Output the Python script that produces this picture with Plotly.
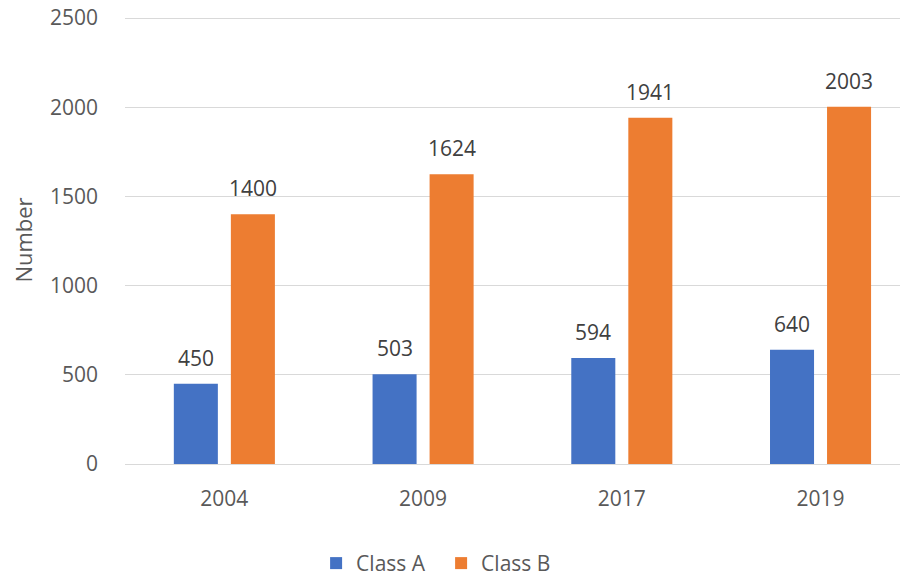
import plotly.graph_objects as go

years = ["2004", "2009", "2017", "2019"]
class_a = [450, 503, 594, 640]
class_b = [1400, 1624, 1941, 2003]

font_family = "Open Sans, Noto Sans, sans-serif"

fig = go.Figure()

# Class A
fig.add_trace(go.Bar(
    x=years,
    y=class_a,
    name="Class A",
    marker=dict(color="#4472C4", line=dict(width=0)),
))

# Class B
fig.add_trace(go.Bar(
    x=years,
    y=class_b,
    name="Class B",
    marker=dict(color="#ED7D31", line=dict(width=0)),
))

# value labels above the bars (x given as category index)
for i, (a, b) in enumerate(zip(class_a, class_b)):
    for val, dx in ((a, -28.5), (b, 28.5)):
        fig.add_annotation(
            x=i, y=val, text=str(val),
            xref="x", yref="y",
            xshift=dx, yshift=26,
            showarrow=False,
            font=dict(size=21, color="#404040"),
        )

fig.update_layout(
    width=900,
    height=568,
    margin=dict(l=117, r=3, t=8, b=112, autoexpand=False),
    paper_bgcolor="white",
    plot_bgcolor="white",
    font=dict(family=font_family, size=21, color="#595959"),
    barmode="group",
    bargap=0.426,
    bargroupgap=0.228,
    showlegend=True,
    legend=dict(
        orientation="h",
        x=0.245,
        xanchor="left",
        y=-0.222,
        yanchor="middle",
        font=dict(size=21, color="#595959"),
        itemwidth=30,
        entrywidth=80,
    ),
)

fig.update_xaxes(
    type="category",
    range=[-0.5, 3.425],
    automargin=False,
    showgrid=False,
    showline=False,
    ticks="",
    ticklabelstandoff=20,
    tickfont=dict(size=21, color="#595959"),
)

fig.update_yaxes(
    range=[0, 2512],
    tickvals=[0, 500, 1000, 1500, 2000, 2500],
    automargin=False,
    showgrid=True,
    gridcolor="#D9D9D9",
    gridwidth=1,
    zeroline=True,
    zerolinecolor="#D9D9D9",
    zerolinewidth=1,
    showline=False,
    ticks="",
    ticklabelstandoff=26,
    ticklabeloverflow="allow",
    tickfont=dict(size=21, color="#595959"),
    title=dict(text="Number", font=dict(size=22, color="#595959"), standoff=12),
)

fig.write_html("out.html")
